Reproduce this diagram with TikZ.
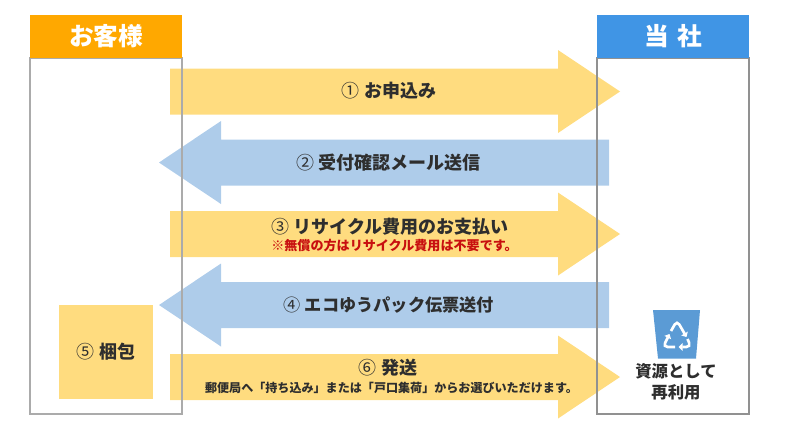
\documentclass[tikz,border=0pt]{standalone}
\usepackage{fontspec}
\usepackage{xcolor}
\usepackage{tikz}
\usetikzlibrary{arrows.meta}
\setmainfont{Noto Sans CJK JP}

\definecolor{headorange}{HTML}{FFA800}
\definecolor{headblue}{HTML}{4095E5}
\definecolor{arrowyellow}{HTML}{FFDC7F}
\definecolor{arrowblue}{HTML}{AECCEA}
\definecolor{binblue}{HTML}{5B9BD5}
\definecolor{boxline}{HTML}{ABABAB}
\definecolor{textdark}{HTML}{2E2E2E}
\definecolor{notered}{HTML}{C80F0F}

\newcommand{\stepnum}[1]{{\mdseries #1}}

\tikzset{
  headbox/.style={fill=#1, text=white, font=\fontsize{18.5}{18.5}\selectfont\bfseries, minimum width=114pt, minimum height=32.25pt, inner sep=0pt},
  steplabel/.style={text=textdark, font=\fontsize{13.5}{13.5}\selectfont\bfseries, inner sep=0pt},
  smalllabel/.style={text=textdark, font=\fontsize{9.05}{9.05}\selectfont\bfseries, inner sep=0pt},
  redlabel/.style={text=notered, font=\fontsize{9.8}{9.8}\selectfont\bfseries, inner sep=0pt},
  recycle/.style={draw=white, line width=2pt, rounded corners=3.5pt, -{Triangle[length=3pt,width=5.5pt]}},
}

\begin{document}
\begin{tikzpicture}[x=0.75pt,y=-0.75pt]
\useasboundingbox (0,0) rectangle (791,437);

% arrows to the right
\foreach \y in {91.5,234,377}
    \fill[arrowyellow] (170,\y-23) -- (558,\y-23) -- (558,\y-41.5) -- (620,\y) -- (558,\y+41.5) -- (558,\y+23) -- (170,\y+23) -- cycle;

% arrows to the left
\foreach \y in {162.5,305}
    \fill[arrowblue] (609,\y-23) -- (221,\y-23) -- (221,\y-41.5) -- (159,\y) -- (221,\y+41.5) -- (221,\y+23) -- (609,\y+23) -- cycle;

% the two columns
\draw[boxline, line width=0.85pt] (30,58) rectangle (182,414);
\draw[boxline!85!black, line width=0.85pt] (597,58) rectangle (749,414);
\node[headbox=headorange] (customer) at (106,36.5) {お客様};
\node[headbox=headblue] (company) at (673,36.5) {当\hspace{6pt}社};

\node[steplabel] (apply) at (389,91) {\stepnum{①} お申込み};
\node[steplabel] (confirm) at (388.5,163) {\stepnum{②} 受付確認メール送信};
\node[steplabel] (pay) at (390,227) {\stepnum{③} リサイクル費用のお支払い};
\node[redlabel] (free) at (394.5,246) {※無償の方はリサイクル費用は不要です。};
\node[steplabel, font=\fontsize{12.9}{12.9}\selectfont\bfseries] (slip) at (389,305) {\stepnum{④} エコゆうパック伝票送付};
\node[steplabel] (send) at (388,368) {\stepnum{⑥} 発送};
\node[smalllabel] (route) at (391.5,388) {郵便局へ「持ち込み」または「戸口集荷」からお選びいただけます。};

\node[steplabel, fill=arrowyellow, minimum size=70.5pt] (pack) at (106,352) {\stepnum{⑤} 梱包};

% bin with the recycling mark
\fill[binblue] (653,310) -- (700,310) -- (696,358.5) -- (658,358.5) -- cycle;
\draw[recycle] (675,347) -- (663,347) -- (669.5,334);
\draw[recycle] (671,331) -- (677,320.5) -- (686.5,337);
\draw[recycle] (687.5,339) -- (691,347) -- (678.5,347);

\node[steplabel, font=\fontsize{12.3}{15.5}\selectfont\bfseries, align=center] (reuse) at (676,382) {資源として\\再利用};
\end{tikzpicture}
\end{document}
